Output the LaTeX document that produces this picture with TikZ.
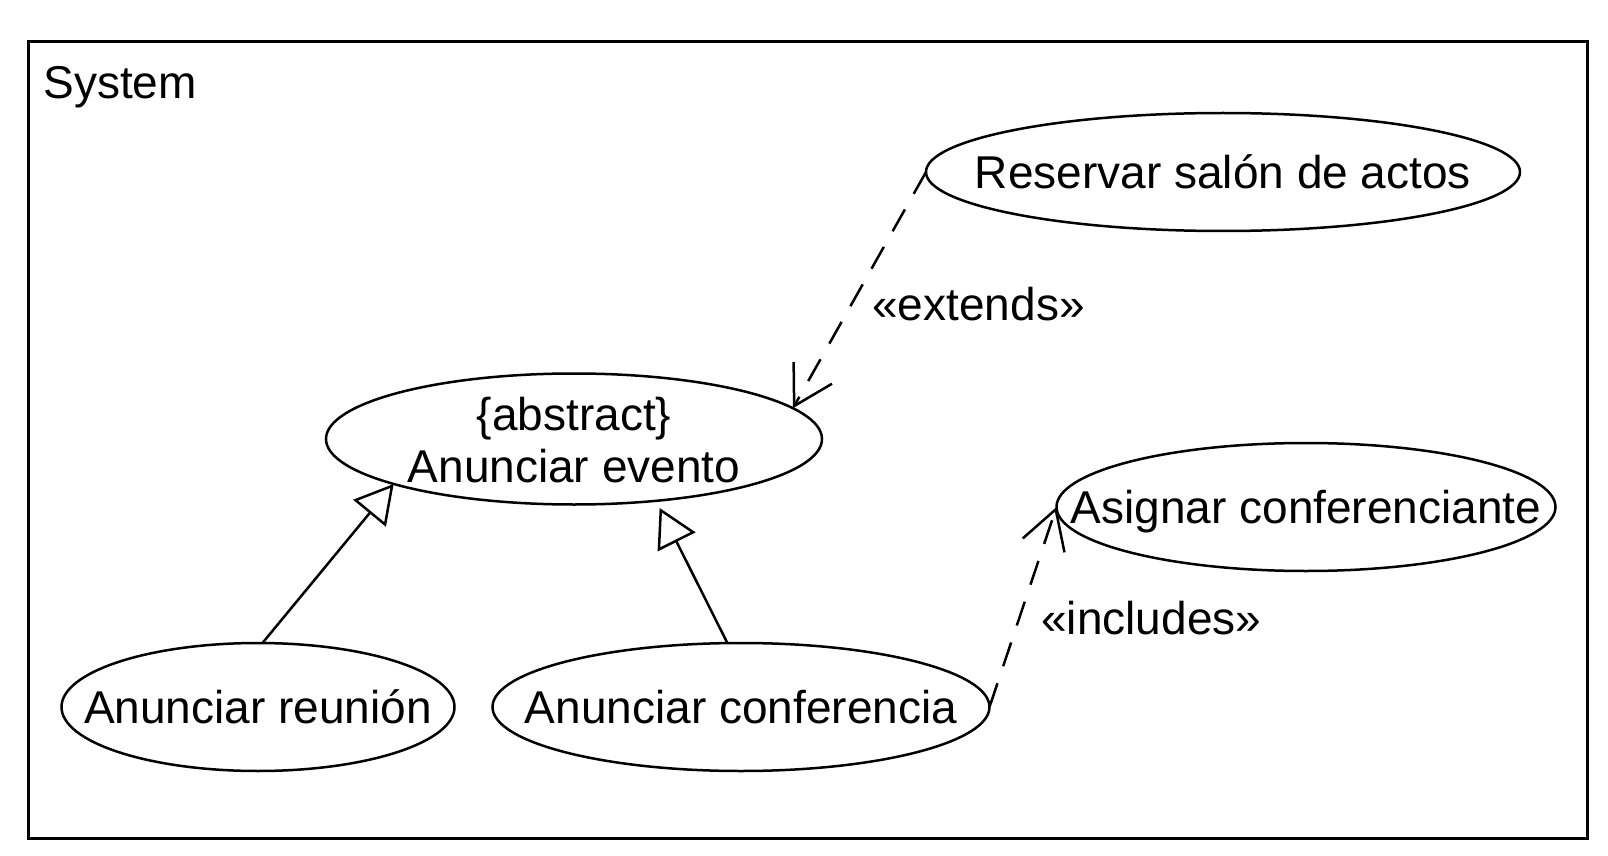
\documentclass[tikz,border=0pt]{standalone}
\usepackage{fontspec}
\setmainfont{Liberation Sans}
\usepackage{tikz}
\usetikzlibrary{arrows.meta,shapes.geometric}

\begin{document}
\begin{tikzpicture}[
                    x=0.5pt, y=-0.5pt,
                    font=\fontsize{23pt}{26pt}\selectfont,
                    usecase/.style={
                        ellipse,
                        draw=black,
                        line width=1.25pt,
                        inner sep=0pt,
                        outer sep=0pt,
                        text height=16.5pt,
                        text depth=0pt
                    },
                    stereo/.style={anchor=west, inner sep=0pt, text height=16.5pt, text depth=0pt},
                    dep/.style={draw, line width=1.25pt, dash pattern=on 12.5pt off 9pt,
                        -{Straight Barb[length=19pt,width=22pt]}},
                    gen/.style={draw, line width=1.25pt,
                        -{Triangle[open,length=19pt,width=21pt]}}
                ]
    \useasboundingbox (0,0) rectangle (1608,856);
    \draw[line width=1.5pt] (28,42) rectangle (1587,838);
    \node[anchor=base west, inner sep=0pt] (system) at (43,99) {System};

    \node[usecase, minimum width=297pt, minimum height=59pt] (reservar) at (1223,172)
        {\makebox[0pt]{Reservar salón de actos}};
    \node[usecase, minimum width=248pt, minimum height=65.5pt, text height=30pt, text depth=10.4pt] (evento) at (574,439)
        {\makebox[0pt]{\begin{tabular}{@{}c@{}}\{abstract\}\\Anunciar evento\end{tabular}}};
    \node[usecase, minimum width=249.5pt, minimum height=64pt] (asignar) at (1306,507)
        {\makebox[0pt]{Asignar conferenciante}};
    \node[usecase, minimum width=196.5pt, minimum height=64pt] (reunion) at (258,707)
        {\makebox[0pt]{Anunciar reunión}};
    \node[usecase, minimum width=248.5pt, minimum height=64pt] (conferencia) at (741,707)
        {\makebox[0pt]{Anunciar conferencia}};

    \node[stereo] (extends) at (872,303.5) {«extends»};
    \node[stereo] (includes) at (1041,618) {«includes»};

    \draw[dep] (reservar.west) -- (evento.8);
    \draw[dep] (conferencia.east) -- (asignar.west);
    \draw[gen] (reunion.86) -- (evento.194);
    \draw[gen, shorten >=4pt] (conferencia.102) -- (evento.-37);
\end{tikzpicture}
\end{document}
